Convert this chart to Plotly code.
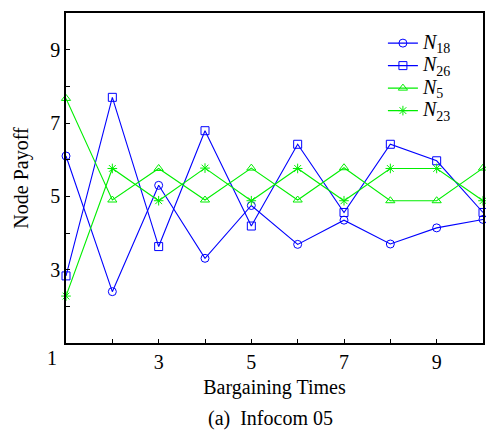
import plotly.graph_objects as go

x = [1, 2, 3, 4, 5, 6, 7, 8, 9, 10]
n18 = [6.10, 2.40, 5.30, 3.31, 4.75, 3.69, 4.35, 3.70, 4.14, 4.37]
n26 = [2.83, 7.70, 3.63, 6.79, 4.19, 6.42, 4.56, 6.42, 5.97, 4.56]
n5 = [7.67, 4.90, 5.76, 4.90, 5.77, 4.90, 5.78, 4.88, 4.88, 5.77]
n23 = [2.28, 5.76, 4.88, 5.77, 4.88, 5.76, 4.88, 5.76, 5.76, 4.88]

x_tickvals = [2, 3, 4, 5, 6, 7, 8, 9]
x_ticktext = ["", "3", "", "5", "", "7", "", "9"]
y_tickvals = [1, 2, 3, 4, 5, 6, 7, 8, 9]
y_ticktext = ["", "", "3", "", "5", "", "7", "", "9"]

BLUE = "#0000ff"
GREEN = "#00ee00"
FONT = "Liberation Serif, Times New Roman, DejaVu Serif, serif"

def lab(sub):
    return '<span style="font-size:20px"><i>N</i><sub>%s</sub></span>' % sub

series = [
    (lab("18"), n18, BLUE, "circle-open"),
    (lab("26"), n26, BLUE, "square-open"),
    (lab("5"), n5, GREEN, "triangle-up-open"),
    (lab("23"), n23, GREEN, "asterisk-open"),
]

fig = go.Figure()
for name, ys, color, sym in series:
    fig.add_trace(go.Scatter(
        x=x, y=ys, name=name, mode="lines+markers",
        line=dict(color=color, width=1.1),
        marker=dict(symbol=sym, size=8, color=color, line=dict(color=color, width=1)),
        cliponaxis=False,
    ))

axis_common = dict(
    showgrid=False, zeroline=False, showline=True, linecolor="black", linewidth=1.5,
    mirror=True, ticks="inside", ticklen=4, tickcolor="black",
    tickfont=dict(family=FONT, size=20, color="black"),
)

fig.update_layout(
    width=486, height=432,
    margin=dict(l=66, r=1, t=13, b=89),
    paper_bgcolor="white", plot_bgcolor="white",
    font=dict(family=FONT, color="black"),
    xaxis=dict(range=[1, 10], tickmode="array", tickvals=x_tickvals, ticktext=x_ticktext,
               title=dict(text="Bargaining Times", font=dict(family=FONT, size=20), standoff=8),
               **axis_common),
    yaxis=dict(range=[1, 10], tickmode="array", tickvals=y_tickvals, ticktext=y_ticktext,
               title=dict(text="Node Payoff", font=dict(family=FONT, size=20), standoff=16),
               **axis_common),
    legend=dict(x=0.76, y=0.958, xanchor="left", yanchor="top",
                bgcolor="rgba(0,0,0,0)", font=dict(family=FONT, size=15),
                tracegroupgap=0, itemwidth=30),
    showlegend=True,
    annotations=[
        dict(text="1", xref="paper", yref="paper", x=-0.033, y=-0.045,
             xanchor="center", yanchor="middle", showarrow=False,
             font=dict(family=FONT, size=20, color="black")),
        dict(text="(a)  Infocom 05", xref="paper", yref="paper", x=0.49, y=-0.228,
             xanchor="center", yanchor="middle", showarrow=False,
             font=dict(family=FONT, size=20, color="black")),
    ],
)

fig.write_html("out.html")
